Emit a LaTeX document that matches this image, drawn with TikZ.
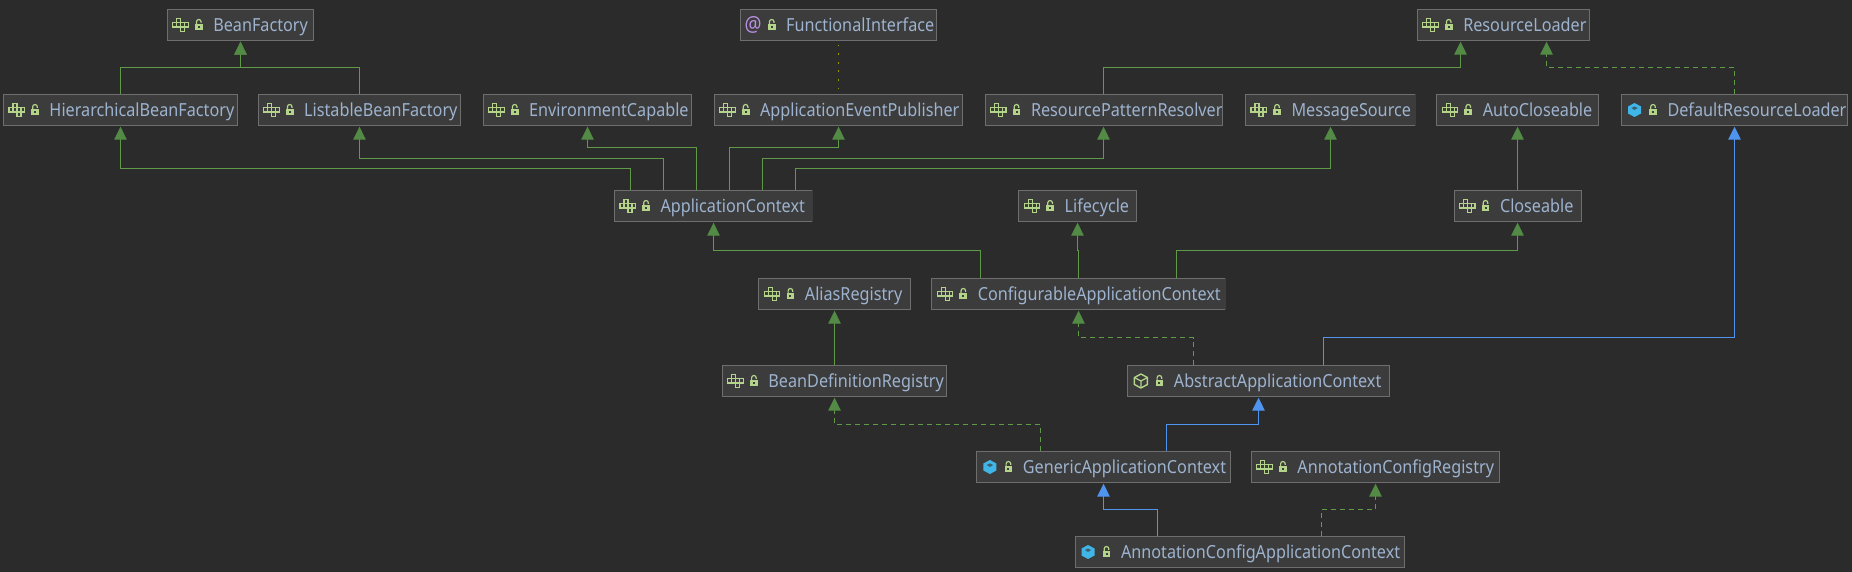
\documentclass[tikz,border=0pt]{standalone}
\usepackage{fontspec}
\setmainfont[FakeStretch=0.9]{Noto Sans}
\usetikzlibrary{arrows.meta,calc}
\definecolor{bgc}{HTML}{2B2B2B}
\definecolor{boxc}{HTML}{3C3C3C}
\definecolor{edgec}{HTML}{6E6E6E}
\definecolor{txtc}{HTML}{9DB3CF}
\definecolor{grn}{HTML}{5F9A48}
\definecolor{grntip}{HTML}{538A45}
\definecolor{blu}{HTML}{4F94EE}
\definecolor{dotc}{HTML}{999900}
\definecolor{icong}{HTML}{B4D48A}
\definecolor{iconb}{HTML}{40B6E8}
\definecolor{iconp}{HTML}{B98FE0}
\tikzset{
  clsbox/.style={draw=edgec,fill=boxc,line width=1pt,inner sep=0pt,outer sep=0pt,minimum height=31.4pt,text=txtc,
    text height=15.5pt,text depth=2.5pt,font=\fontsize{18}{20}\selectfont},
  ext/.style={draw=grn,line width=1.1pt,-{Triangle[width=12.6pt,length=13pt,fill=grntip,color=grntip]},shorten >=1pt},
  impl/.style={ext,dash pattern=on 5.5pt off 3.5pt},
  extb/.style={draw=blu,line width=1.1pt,-{Triangle[width=12.6pt,length=13pt,fill=blu,color=blu]},shorten >=1pt},
  dotl/.style={draw=dotc,line width=1.8pt,dash pattern=on 1.8pt off 6.8pt},
}
% #1 name, #2 left, #3 top, #4 right, #5 icon macro, #6 text
\newcommand{\cls}[6]{%
  \pgfmathsetmacro{\boxW}{#4-#2}%
  \node[clsbox,minimum width=\boxW pt,anchor=north west] (#1) at (#2,#3)
     {\makebox[\boxW pt][l]{\hspace{46pt}#6}};
  \begin{scope}[shift={(#1.west)}]
    #5
    \fill[icong] (27.6,-1.4) rectangle (35.4,5.2);
    \draw[icong,line width=1.2pt] (29.2,-1.2) -- (29.2,-3.2) arc[start angle=180,end angle=0,radius=2.3pt] -- (33.8,-2.2);
    \fill[boxc] (30.5,1) rectangle (32.5,3);
  \end{scope}
}
\newcommand{\ifaceicon}{%
  \begin{scope}[draw=icong,line width=1.1pt]
    \draw (5.5,-2.5) rectangle (21,2);
    \draw (9.5,-2.5) -- (9.5,2) (13.5,-2.5) -- (13.5,2) (17.5,-2.5) -- (17.5,2);
    \draw (9.5,-2.5) -- (9.5,-6.5) -- (13.5,-6.5) -- (13.5,-2.5);
    \draw (13.5,2) -- (13.5,6.5) -- (17.5,6.5) -- (17.5,2);
  \end{scope}}
\newcommand{\classicon}{%
  \fill[iconb] (13,-7) -- (19.5,-3.5) -- (19.5,3.5) -- (13,7) -- (6.5,3.5) -- (6.5,-3.5) -- cycle;
  \fill[boxc!70!iconb] (13,-3.6) -- (16.2,-2) -- (13,0) -- (9.8,-2) -- cycle;}
\newcommand{\abstracticon}{%
  \draw[icong,line width=1.4pt,line join=round] (13,-7) -- (19.5,-3.5) -- (19.5,3.5) -- (13,7) -- (6.5,3.5) -- (6.5,-3.5) -- cycle;
  \draw[icong,line width=1.2pt] (6.5,-3.5) -- (13,0) -- (19.5,-3.5) (13,0) -- (13,7);}
\newcommand{\annoicon}{%
  \node[text=iconp,inner sep=0pt,font=\fontsize{21}{22}\selectfont] at (13,-0.5) {@};}
% #1 style, #2 source, #3 dx at source, #4 elbow y, #5 target, #6 dx at target
\newcommand{\link}[6]{%
  \draw[#1] ([xshift=#3pt]#2.north) -- ([xshift=#3pt]#2.north |- 0,#4) -- ([xshift=#6pt]#5.south |- 0,#4) -- ([xshift=#6pt]#5.south);}
\newcommand{\openedge}[1]{\draw[boxc,line width=1.2pt] ([yshift=0.6pt]#1.north east) -- ([yshift=-0.6pt]#1.south east);}
\begin{document}
\begin{tikzpicture}[x=1pt,y=-1pt]
\useasboundingbox[fill=bgc] (0,0) rectangle (1852,572);
% row 1
\cls{bf}{167.3}{9.3}{313.7}{\ifaceicon}{BeanFactory}
\cls{fi}{740.2}{9.3}{936.8}{\annoicon}{FunctionalInterface}
\cls{rl}{1417.25}{9.3}{1589.75}{\ifaceicon}{ResourceLoader}
% row 2
\cls{hbf}{3.5}{94.3}{237.5}{\ifaceicon}{HierarchicalBeanFactory}
\cls{lbf}{258.2}{94.3}{460.8}{\ifaceicon}{ListableBeanFactory}
\cls{env}{483.2}{94.3}{691.8}{\ifaceicon}{EnvironmentCapable}
\cls{aep}{714.1}{94.3}{962.9}{\ifaceicon}{ApplicationEventPublisher}
\cls{rpr}{985}{94.3}{1222}{\ifaceicon}{ResourcePatternResolver}
\cls{ms}{1245.5}{94.3}{1415.5}{\ifaceicon}{MessageSource}
\cls{ac2}{1436.8}{94.3}{1598.2}{\ifaceicon}{AutoCloseable}
\cls{drl}{1621.5}{94.3}{1847.5}{\classicon}{DefaultResourceLoader}
% row 3
\cls{ac}{614.5}{190.3}{812.5}{\ifaceicon}{ApplicationContext}
\cls{lc}{1018.6}{190.3}{1136.4}{\ifaceicon}{Lifecycle}
\cls{cl}{1454}{190.3}{1581}{\ifaceicon}{Closeable}
% row 4
\cls{ar}{758.9}{278.3}{910.1}{\ifaceicon}{AliasRegistry}
\cls{cac}{931.8}{278.3}{1225.2}{\ifaceicon}{ConfigurableApplicationContext}
% row 5
\cls{bdr}{722.4}{365.3}{946.6}{\ifaceicon}{BeanDefinitionRegistry}
\cls{aac}{1127.9}{365.3}{1389.1}{\abstracticon}{AbstractApplicationContext}
% row 6
\cls{gac}{976.9}{451.3}{1230.1}{\classicon}{GenericApplicationContext}
\cls{acr}{1251.4}{451.3}{1499.6}{\ifaceicon}{AnnotationConfigRegistry}
% row 7
\cls{acac}{1075}{536.3}{1404}{\classicon}{AnnotationConfigApplicationContext}
\openedge{ms}
\openedge{ac}
\openedge{cac}
% connectors
\link{ext}{hbf}{0}{67.5}{bf}{0}
\link{ext}{lbf}{0}{67.5}{bf}{0}
\draw[dotl] (fi.south) ++(0,4) -- (aep.north);
\link{ext}{rpr}{0}{67.5}{rl}{-43}
\link{impl}{drl}{0}{67.5}{rl}{43}
\link{ext}{ac}{-83}{168.5}{hbf}{0}
\link{ext}{ac}{-50}{158.5}{lbf}{0}
\link{ext}{ac}{-17}{147.5}{env}{0}
\link{ext}{ac}{16}{147.5}{aep}{0}
\link{ext}{ac}{49}{158.5}{rpr}{0}
\link{ext}{ac}{82}{168.5}{ms}{0}
\draw[ext] (cl) -- (ac2);
\link{ext}{cac}{-98}{250.5}{ac}{0}
\link{ext}{cac}{0}{250.5}{lc}{0}
\link{ext}{cac}{98}{250.5}{cl}{0}
\draw[ext] (bdr) -- (ar);
\link{impl}{aac}{-65}{337.5}{cac}{0}
\link{extb}{aac}{65}{337.5}{drl}{0}
\link{impl}{gac}{-63}{424.5}{bdr}{0}
\link{extb}{gac}{63}{424.5}{aac}{0}
\link{extb}{acac}{-82}{509.5}{gac}{0}
\link{impl}{acac}{82}{509.5}{acr}{0}
\end{tikzpicture}
\end{document}
